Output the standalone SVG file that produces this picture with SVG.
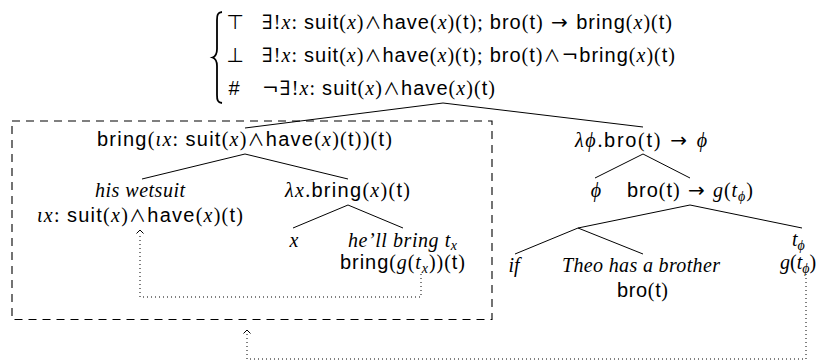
<svg xmlns="http://www.w3.org/2000/svg" width="821" height="363" viewBox="0 0 821 363">
<style>
text { font-size: 20px; fill: #000; font-family: "Liberation Serif", "DejaVu Serif", serif; }
.s { font-family: "Liberation Sans", Arial, sans-serif; font-style: normal; }
.m { font-family: "Liberation Serif", "DejaVu Serif", serif; font-style: normal; }
.i { font-family: "Liberation Serif", "DejaVu Serif", serif; font-style: italic; }
.op { font-family: "DejaVu Sans", sans-serif; font-style: normal; }
.and { font-family: "Noto Sans CJK JP", "DejaVu Sans", sans-serif; font-size: 17px; font-style: normal; }
.sub { font-size: 14px; }
.edge { stroke: #000; stroke-width: 1; fill: none; }
.dot { stroke: #000; stroke-width: 1; fill: none; stroke-dasharray: 1 3; }
.box { stroke: #000; stroke-width: 1.1; fill: none; stroke-dasharray: 8 6; }
.head { stroke: #000; stroke-width: 1; fill: none; }
.brace { stroke: #000; stroke-width: 1.8; fill: none; }
</style>

<g id="root">
  <path class="brace" d="M222,12 C217.5,12.5 217,15 217,20 L217,49 C217,54 215.5,56.5 212.5,57.5 C215.5,58.5 217,61 217,66 L217,95 C217,100 217.5,102.5 222,103"/>
  <text x="235" y="29" text-anchor="middle" class="op">⊤</text>
  <text x="235" y="62" text-anchor="middle" class="op">⊥</text>
  <text x="234" y="95" text-anchor="middle" class="s">#</text>
  <text x="262" y="29" textLength="410" lengthAdjust="spacing"><tspan class="m">∃!</tspan><tspan class="i">x</tspan><tspan class="m">: </tspan><tspan class="s">suit</tspan><tspan class="m">(</tspan><tspan class="i">x</tspan><tspan class="m">)</tspan><tspan class="and">∧</tspan><tspan class="s">have</tspan><tspan class="m">(</tspan><tspan class="i">x</tspan><tspan class="m">)(</tspan><tspan class="s">t</tspan><tspan class="m">); </tspan><tspan class="s">bro</tspan><tspan class="m">(</tspan><tspan class="s">t</tspan><tspan class="m">)</tspan><tspan class="op"> → </tspan><tspan class="s">bring</tspan><tspan class="m">(</tspan><tspan class="i">x</tspan><tspan class="m">)(</tspan><tspan class="s">t</tspan><tspan class="m">)</tspan></text>
  <text x="262" y="62" textLength="413" lengthAdjust="spacing"><tspan class="m">∃!</tspan><tspan class="i">x</tspan><tspan class="m">: </tspan><tspan class="s">suit</tspan><tspan class="m">(</tspan><tspan class="i">x</tspan><tspan class="m">)</tspan><tspan class="and">∧</tspan><tspan class="s">have</tspan><tspan class="m">(</tspan><tspan class="i">x</tspan><tspan class="m">)(</tspan><tspan class="s">t</tspan><tspan class="m">); </tspan><tspan class="s">bro</tspan><tspan class="m">(</tspan><tspan class="s">t</tspan><tspan class="m">)</tspan><tspan class="and">∧</tspan><tspan class="op">¬</tspan><tspan class="s">bring</tspan><tspan class="m">(</tspan><tspan class="i">x</tspan><tspan class="m">)(</tspan><tspan class="s">t</tspan><tspan class="m">)</tspan></text>
  <text x="262" y="95" textLength="233" lengthAdjust="spacing"><tspan class="op">¬</tspan><tspan class="m">∃!</tspan><tspan class="i">x</tspan><tspan class="m">: </tspan><tspan class="s">suit</tspan><tspan class="m">(</tspan><tspan class="i">x</tspan><tspan class="m">)</tspan><tspan class="and">∧</tspan><tspan class="s">have</tspan><tspan class="m">(</tspan><tspan class="i">x</tspan><tspan class="m">)(</tspan><tspan class="s">t</tspan><tspan class="m">)</tspan></text>
</g>

<g id="scope-box">
  <rect class="box" x="12" y="121" width="480" height="198.5"/>
</g>

<g id="n-bring-iota">
  <text x="97" y="146" textLength="295" lengthAdjust="spacing"><tspan class="s">bring</tspan><tspan class="m">(</tspan><tspan class="i">ιx</tspan><tspan class="m">: </tspan><tspan class="s">suit</tspan><tspan class="m">(</tspan><tspan class="i">x</tspan><tspan class="m">)</tspan><tspan class="and">∧</tspan><tspan class="s">have</tspan><tspan class="m">(</tspan><tspan class="i">x</tspan><tspan class="m">)(</tspan><tspan class="s">t</tspan><tspan class="m">))(</tspan><tspan class="s">t</tspan><tspan class="m">)</tspan></text>
</g>

<g id="n-wetsuit">
  <text x="95" y="197" textLength="90" lengthAdjust="spacing" class="i">his wetsuit</text>
  <text x="37" y="222" textLength="206" lengthAdjust="spacing"><tspan class="i">ιx</tspan><tspan class="m">: </tspan><tspan class="s">suit</tspan><tspan class="m">(</tspan><tspan class="i">x</tspan><tspan class="m">)</tspan><tspan class="and">∧</tspan><tspan class="s">have</tspan><tspan class="m">(</tspan><tspan class="i">x</tspan><tspan class="m">)(</tspan><tspan class="s">t</tspan><tspan class="m">)</tspan></text>
</g>

<g id="n-lambda-x">
  <text x="285" y="197" textLength="125" lengthAdjust="spacing"><tspan class="i">λx</tspan><tspan class="m">.</tspan><tspan class="s">bring</tspan><tspan class="m">(</tspan><tspan class="i">x</tspan><tspan class="m">)(</tspan><tspan class="s">t</tspan><tspan class="m">)</tspan></text>
</g>

<g id="n-x">
  <text x="294" y="247" text-anchor="middle" class="i">x</text>
</g>

<g id="n-bring-tx">
  <text x="348" y="247" textLength="109" lengthAdjust="spacing" class="i">he’ll bring t<tspan class="sub" dy="3">x</tspan></text>
  <text x="340" y="269" textLength="125" lengthAdjust="spacing"><tspan class="s">bring</tspan><tspan class="m">(</tspan><tspan class="i">g</tspan><tspan class="m">(</tspan><tspan class="i">t</tspan><tspan class="i sub" dy="4">x</tspan><tspan class="m" dy="-4">))(</tspan><tspan class="s">t</tspan><tspan class="m">)</tspan></text>
</g>

<g id="n-lambda-phi">
  <text x="575" y="147" textLength="132" lengthAdjust="spacing"><tspan class="i">λϕ</tspan><tspan class="m">.</tspan><tspan class="s">bro</tspan><tspan class="m">(</tspan><tspan class="s">t</tspan><tspan class="m">)</tspan><tspan class="op"> → </tspan><tspan class="i">ϕ</tspan></text>
</g>

<g id="n-phi">
  <text x="596" y="197" text-anchor="middle" class="i">ϕ</text>
</g>

<g id="n-bro-g">
  <text x="627" y="197" textLength="126" lengthAdjust="spacing"><tspan class="s">bro</tspan><tspan class="m">(</tspan><tspan class="s">t</tspan><tspan class="m">)</tspan><tspan class="op"> → </tspan><tspan class="i">g</tspan><tspan class="m">(</tspan><tspan class="i">t</tspan><tspan class="i sub" dy="4">ϕ</tspan><tspan class="m" dy="-4">)</tspan></text>
</g>

<g id="n-if">
  <text x="514" y="272" text-anchor="middle" class="i">if</text>
</g>

<g id="n-theo">
  <text x="562" y="272" textLength="158" lengthAdjust="spacing" class="i">Theo has a brother</text>
  <text x="617" y="297" textLength="51" lengthAdjust="spacing"><tspan class="s">bro</tspan><tspan class="m">(</tspan><tspan class="s">t</tspan><tspan class="m">)</tspan></text>
</g>

<g id="n-tphi">
  <text x="792" y="246" class="i">t<tspan class="sub" dy="4">ϕ</tspan></text>
  <text x="780" y="269"><tspan class="i">g</tspan><tspan class="m">(</tspan><tspan class="i">t</tspan><tspan class="i sub" dy="4">ϕ</tspan><tspan class="m" dy="-4">)</tspan></text>
</g>

<g id="connectors">
  <path class="edge" d="M443,103 L245,128 M443,103 L643,127"/>
  <path class="edge" d="M245,154 L142,179 M245,154 L348,179"/>
  <path class="edge" d="M348,205 L293,228 M348,205 L403,228"/>
  <path class="edge" d="M643,154 L595,178 M643,154 L690,178"/>
  <path class="edge" d="M690,205 L578,228 M690,205 L802,228"/>
  <path class="edge" d="M578,228 L515,254 M578,228 L643,254"/>
  <path class="dot" d="M421,274 V297 H140 V234"/>
  <path class="head" d="M136.5,233.5 L140,230 L143.5,233.5"/>
  <path class="dot" d="M806,274 V359 H247 V334"/>
  <path class="head" d="M243.5,333.5 L247,330 L250.5,333.5"/>
</g>
</svg>
